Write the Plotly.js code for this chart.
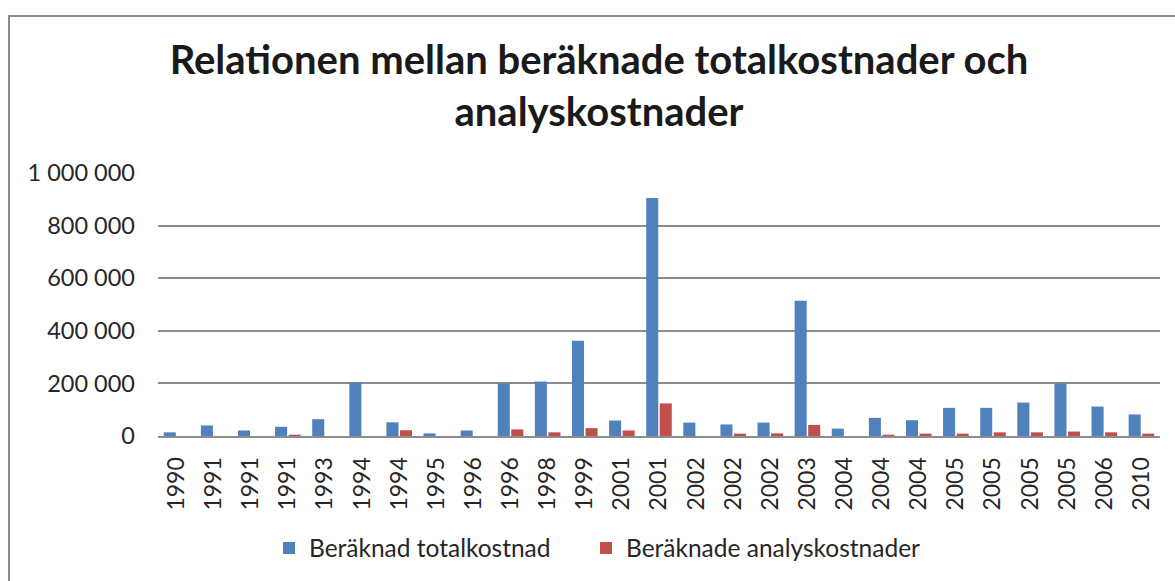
<!DOCTYPE html>
<html>
<head>
<meta charset="utf-8">
<script src="https://cdn.plot.ly/plotly-3.0.1.min.js"></script>
<style>
  html, body { margin: 0; padding: 0; background: #ffffff; overflow: hidden; }
  #frame { position: absolute; left: 8px; top: 15px; border-left: 2px solid #8c8c8c; border-top: 2px solid #8c8c8c; }
  #chart { width: 1180px; height: 564px; }
</style>
</head>
<body>
<div id="frame"><div id="chart"></div></div>
<script>
const categories = ["1990","1991","1991","1991","1993","1994","1994","1995","1996","1996","1998","1999","2001","2001","2002","2002","2002","2003","2004","2004","2004","2005","2005","2005","2005","2006","2010"];
const totalkostnad = [14000,40000,21000,35000,64000,203000,52000,10000,21000,200000,207000,362000,59000,905000,51000,44000,51000,514000,28000,69000,60000,107000,107000,127000,200000,112000,82000];
const analyskostnader = [0,0,0,5000,0,0,22000,0,0,25000,14000,30000,21000,124000,0,9000,10000,42000,0,5000,9000,9000,14000,14000,17000,14000,9000];
const seriesNames = ["Beräknad totalkostnad", "Beräknade analyskostnader"];
const titleText = "Relationen mellan beräknade totalkostnader och<br>analyskostnader";

const idx = categories.map((_, i) => i);
const fontFam = "Lato, 'Open Sans', sans-serif";

const traces = [
  { type: "bar", name: seriesNames[0], x: idx, y: totalkostnad, marker: { color: "#4f81bd" }, legend: "legend" },
  { type: "bar", name: seriesNames[1], x: idx, y: analyskostnader, marker: { color: "#c0504d" }, legend: "legend2" }
];

const legendBase = {
  orientation: "h", xanchor: "left", xref: "container",
  y: 1 - 531 / 564, yanchor: "middle", yref: "container",
  font: { family: fontFam, size: 24.5, color: "#262626" },
  itemwidth: 30, bgcolor: "rgba(0,0,0,0)"
};

const layout = {
  width: 1180, height: 564,
  margin: { l: 148, r: 30, t: 156, b: 144.5 },
  paper_bgcolor: "#ffffff", plot_bgcolor: "#ffffff",
  separators: ", ",
  barmode: "group", bargap: 0.27, bargroupgap: 0.11,
  font: { family: fontFam, color: "#262626", size: 21 },
  title: {
    text: titleText,
    font: { family: fontFam, size: 40, color: "#1a1a1a", weight: "bold" },
    x: 589 / 1180, xanchor: "center", xref: "container",
    y: 1 - 57 / 564, yanchor: "top", yref: "container"
  },
  xaxis: {
    tickvals: idx, ticktext: categories, tickangle: -90,
    range: [-0.5, categories.length - 0.5],
    showline: true, linecolor: "#8c8c8c", linewidth: 2,
    ticks: "", showgrid: false, zeroline: false,
    ticklabelstandoff: 10,
    tickfont: { family: fontFam, size: 23, color: "#262626" }
  },
  yaxis: {
    range: [0, 1000000], tickvals: [0, 200000, 400000, 600000, 800000, 1000000],
    tickformat: ",.0f",
    showgrid: true, gridcolor: "#8c8c8c", gridwidth: 2,
    zeroline: false, showline: false, ticks: "",
    ticklabelstandoff: 22,
    tickfont: { family: fontFam, size: 23.5, color: "#262626" }
  },
  legend: Object.assign({}, legendBase, { x: 259 / 1180 }),
  legend2: Object.assign({}, legendBase, { x: 576 / 1180 }),
  showlegend: true
};

Plotly.newPlot("chart", traces, layout, { displayModeBar: false, staticPlot: true });
</script>
</body>
</html>
